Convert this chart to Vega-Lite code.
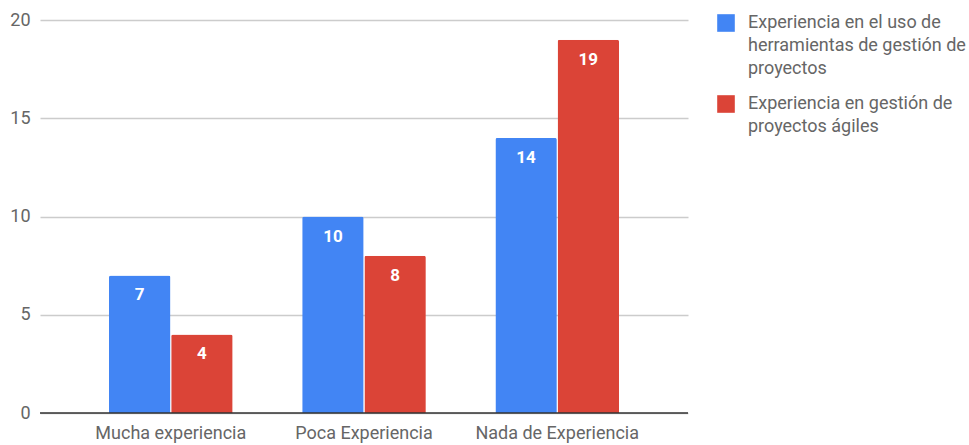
{
  "$schema": "https://vega.github.io/schema/vega-lite/v6.json",
  "width": 648,
  "height": 393,
  "autosize": "none",
  "padding": {"left": 40, "top": 20, "right": 281, "bottom": 32},
  "background": "white",
  "config": {
    "font": "Roboto",
    "view": {"stroke": null}
  },
  "data": {
    "values": [
      {"cat": "Mucha experiencia", "serie": "Experiencia en el uso de herramientas de gestión de proyectos", "valor": 7},
      {"cat": "Mucha experiencia", "serie": "Experiencia en gestión de proyectos ágiles", "valor": 4},
      {"cat": "Poca Experiencia", "serie": "Experiencia en el uso de herramientas de gestión de proyectos", "valor": 10},
      {"cat": "Poca Experiencia", "serie": "Experiencia en gestión de proyectos ágiles", "valor": 8},
      {"cat": "Nada de Experiencia", "serie": "Experiencia en el uso de herramientas de gestión de proyectos", "valor": 14},
      {"cat": "Nada de Experiencia", "serie": "Experiencia en gestión de proyectos ágiles", "valor": 19}
    ]
  },
  "encoding": {
    "x": {
      "field": "cat", "type": "nominal", "sort": null,
      "scale": {"paddingInner": 0.36, "paddingOuter": 0.357},
      "axis": {"title": null, "labelAngle": 0, "labelFontSize": 18, "labelColor": "#666666", "labelPadding": 11, "ticks": false, "domain": false, "labelFont": "Roboto"}
    },
    "xOffset": {
      "field": "serie", "type": "nominal", "sort": null,
      "scale": {"paddingInner": 0.012}
    },
    "y": {
      "field": "valor", "type": "quantitative",
      "scale": {"domain": [0, 20]},
      "axis": {"title": null, "values": [0, 5, 10, 15, 20], "labelFontSize": 18, "labelColor": "#666666", "labelPadding": 10, "ticks": false, "domain": false, "gridColor": "#cccccc", "gridWidth": 1.5, "labelFont": "Roboto"}
    }
  },
  "layer": [
    {
      "mark": {"type": "bar", "cornerRadiusTopLeft": 2, "cornerRadiusTopRight": 2},
      "encoding": {
        "color": {
          "field": "serie", "type": "nominal", "sort": null,
          "scale": {"range": ["#4285F4", "#DB4437"]},
          "legend": {
            "title": null, "orient": "none", "legendX": 677, "legendY": -6,
            "symbolType": "square", "symbolSize": 310, "symbolStrokeWidth": 0,
            "labelFontSize": 18, "labelColor": "#666666", "labelLimit": 400, "labelOffset": 13,
            "rowPadding": 17, "labelFont": "Roboto",
            "labelExpr": "datum.label == 'Experiencia en gestión de proyectos ágiles' ? ['Experiencia en gestión de', 'proyectos ágiles'] : ['Experiencia en el uso de', 'herramientas de gestión de', 'proyectos']",
            "encode": {"labels": {"update": {"lineHeight": {"value": 23}}}}
          }
        }
      }
    },
    {
      "mark": {"type": "text", "baseline": "middle", "dy": 20, "color": "white", "fontSize": 17, "fontWeight": "bold", "font": "Roboto"},
      "encoding": {"text": {"field": "valor", "type": "quantitative"}}
    },
    {
      "data": {"values": [{"v": 0}]},
      "mark": {"type": "rule", "color": "#333333", "strokeWidth": 1.5},
      "encoding": {"y": {"field": "v", "type": "quantitative"}, "x": {"value": 0}, "x2": {"value": 648}, "xOffset": null}
    }
  ]
}
